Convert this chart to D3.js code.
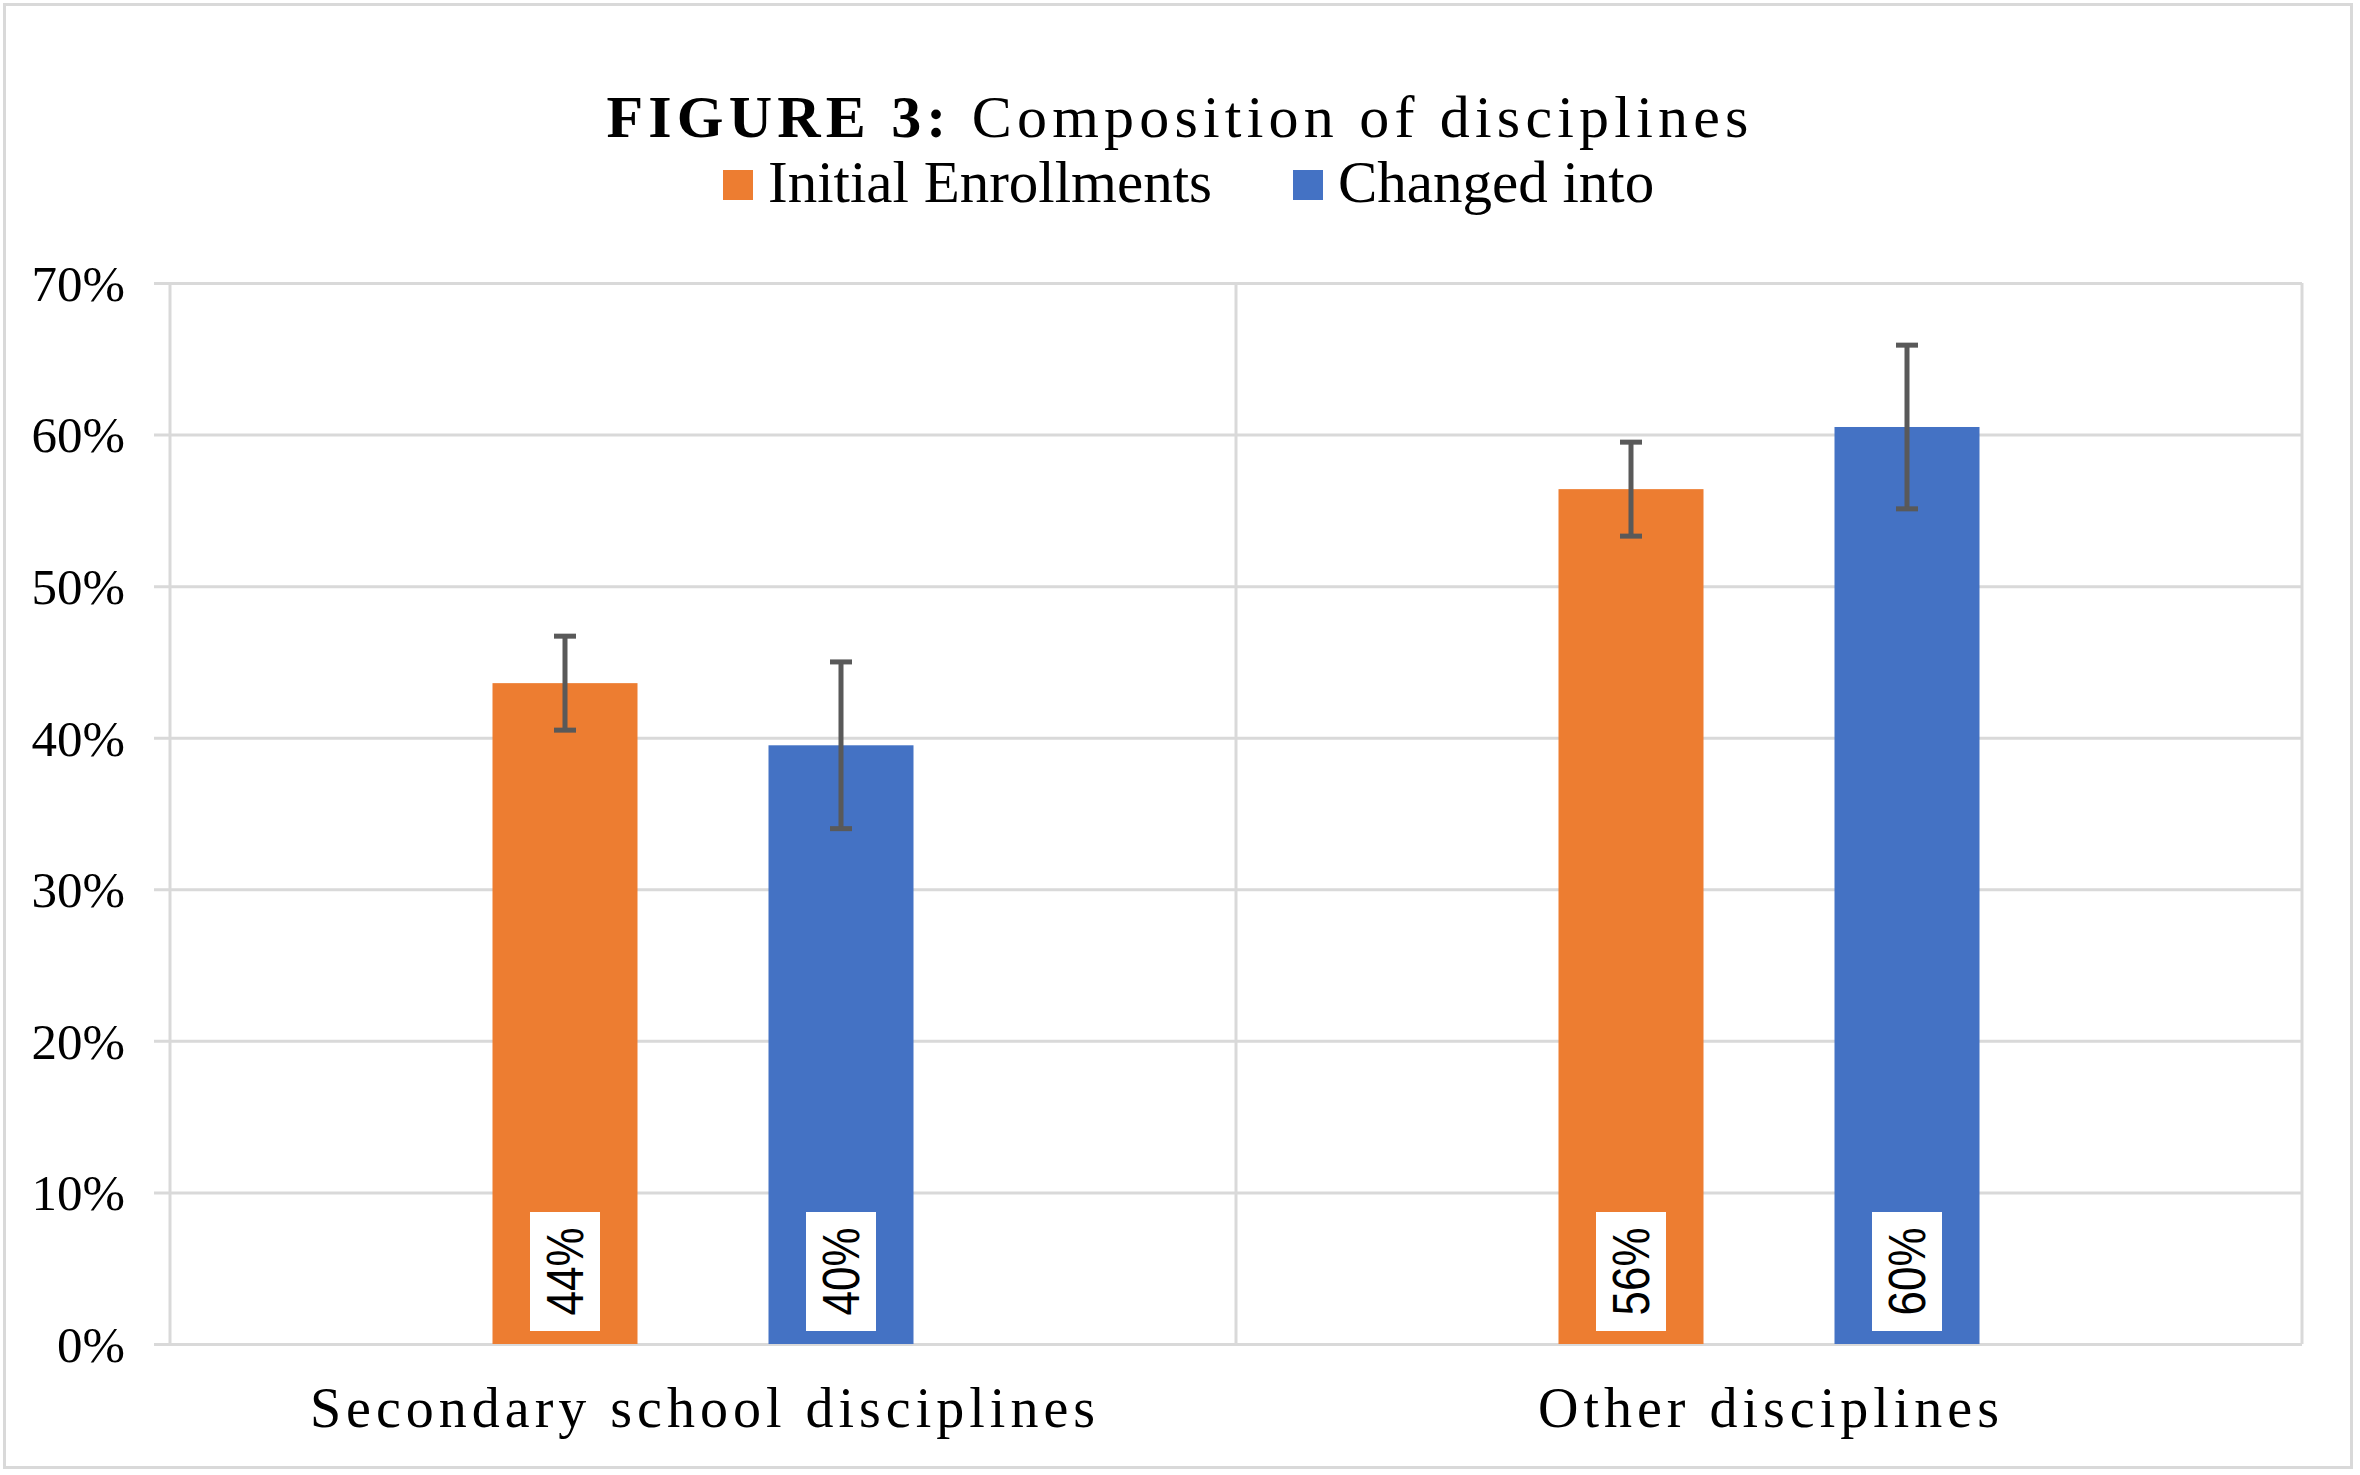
<!DOCTYPE html>
<html>
<head>
<meta charset="utf-8">
<script src="https://cdn.jsdelivr.net/npm/d3@7"></script>
<style>
  html, body { margin: 0; padding: 0; background: #fff; }
  svg { display: block; }
</style>
</head>
<body>
<svg id="chart" width="2360" height="1475"></svg>
<script>
// ---- Data ----
const categories = ["Secondary school disciplines", "Other disciplines"];
const series = ["Initial Enrollments", "Changed into"];
const initialValues = [0.436, 0.564];
const changedValues = [0.395, 0.605];
const initialErrors = [0.031, 0.031];
const changedErrors = [0.055, 0.054];
const initialLabels = ["44%", "56%"];
const changedLabels = ["40%", "60%"];
const yTicks = [0, 0.1, 0.2, 0.3, 0.4, 0.5, 0.6, 0.7];
const colors = ["#ED7D31", "#4472C4"];

const rows = [];
categories.forEach((c, i) => {
  rows.push({cat: c, ser: series[0], v: initialValues[i], e: initialErrors[i], label: initialLabels[i]});
  rows.push({cat: c, ser: series[1], v: changedValues[i], e: changedErrors[i], label: changedLabels[i]});
});

const svg = d3.select("#chart");
const plot = {left: 170, right: 2302, top: 283, bottom: 1344};

// outer border
svg.append("rect").attr("x", 4.5).attr("y", 4.5).attr("width", 2347).attr("height", 1463)
  .attr("fill", "#fff").attr("stroke", "#d9d9d9").attr("stroke-width", 3);

const x0 = d3.scaleBand().domain(categories).range([plot.left, plot.right]).paddingInner(0).paddingOuter(0);
const groupHalf = 210.5;
const x1 = d3.scaleBand().domain(series).range([-groupHalf, groupHalf]).paddingInner(131 / 276).paddingOuter(0);
const y = d3.scaleLinear().domain([0, 0.7]).range([plot.bottom, plot.top]);
const color = d3.scaleOrdinal().domain(series).range(colors);

// horizontal gridlines + y axis
const yAxis = d3.axisLeft(y).tickValues(yTicks).tickFormat(d3.format(".0%"))
  .tickSize(-(plot.right - plot.left)).tickSizeOuter(0).tickPadding(45);
const gy = svg.append("g").attr("transform", `translate(${plot.left},0)`).call(yAxis);
gy.select(".domain").remove();
gy.selectAll(".tick line").attr("stroke", "#d9d9d9").attr("stroke-width", 3)
  .attr("x1", -16);
gy.selectAll(".tick text").attr("font-family", "'Liberation Serif', 'Times New Roman', serif")
  .attr("font-size", 51).attr("fill", "#000").attr("x", -45).attr("dy", "0.34em");

// vertical gridlines at category boundaries
const vLines = [plot.left, ...categories.map(c => x0(c) + x0.bandwidth())];
svg.append("g").selectAll("line").data(vLines).join("line")
  .attr("x1", d => d).attr("x2", d => d).attr("y1", plot.top).attr("y2", plot.bottom)
  .attr("stroke", "#d9d9d9").attr("stroke-width", 3);

// bars
const cx = d => x0(d.cat) + x0.bandwidth() / 2 + x1(d.ser);
svg.append("g").selectAll("rect").data(rows).join("rect")
  .attr("x", cx).attr("width", x1.bandwidth())
  .attr("y", d => y(d.v)).attr("height", d => y(0) - y(d.v))
  .attr("fill", d => color(d.ser));

// error bars
const eg = svg.append("g").attr("stroke", "#595959").attr("stroke-width", 5);
rows.forEach(d => {
  const mx = cx(d) + x1.bandwidth() / 2;
  eg.append("line").attr("x1", mx).attr("x2", mx).attr("y1", y(d.v + d.e)).attr("y2", y(d.v - d.e));
  eg.append("line").attr("x1", mx - 11).attr("x2", mx + 11).attr("y1", y(d.v + d.e)).attr("y2", y(d.v + d.e));
  eg.append("line").attr("x1", mx - 11).attr("x2", mx + 11).attr("y1", y(d.v - d.e)).attr("y2", y(d.v - d.e));
});

// data labels (rotated, white boxes at bar base)
const lg = svg.append("g");
rows.forEach(d => {
  const mx = cx(d) + x1.bandwidth() / 2;
  const boxH = 119, boxW = 70;
  const boxBottom = y(0) - 13;
  lg.append("rect").attr("x", mx - boxW / 2).attr("y", boxBottom - boxH)
    .attr("width", boxW).attr("height", boxH).attr("fill", "#fff");
  const cy = boxBottom - boxH / 2;
  lg.append("text").attr("transform", `translate(${mx},${cy}) rotate(-90)`)
    .attr("text-anchor", "middle").attr("dy", "0.36em")
    .attr("font-family", "'Liberation Sans', Arial, sans-serif").attr("font-size", 51)
    .attr("textLength", 88).attr("lengthAdjust", "spacingAndGlyphs")
    .attr("fill", "#000").text(d.label);
});

// x labels
svg.append("g").selectAll("text").data(categories).join("text")
  .attr("x", d => x0(d) + x0.bandwidth() / 2 + 2).attr("y", 1427)
  .attr("text-anchor", "middle")
  .attr("font-family", "'Liberation Serif', 'Times New Roman', serif")
  .attr("font-size", 56).attr("letter-spacing", "5px").attr("fill", "#000")
  .text(d => d);

// title
const title = svg.append("text").attr("x", 1180).attr("y", 137).attr("text-anchor", "middle")
  .attr("font-family", "'Liberation Serif', 'Times New Roman', serif")
  .attr("font-size", 60).attr("letter-spacing", "5.2px").attr("fill", "#000");
title.append("tspan").attr("font-weight", "bold").text("FIGURE 3:");
title.append("tspan").text(" Composition of disciplines");

// legend
const legendX = [723, 1293];
const leg = svg.append("g");
series.forEach((s, i) => {
  leg.append("rect").attr("x", legendX[i]).attr("y", 170).attr("width", 30).attr("height", 30)
    .attr("fill", colors[i]);
  leg.append("text").attr("x", legendX[i] + 45).attr("y", 202)
    .attr("font-family", "'Liberation Serif', 'Times New Roman', serif")
    .attr("font-size", 59).attr("fill", "#000").text(s);
});
</script>
</body>
</html>
